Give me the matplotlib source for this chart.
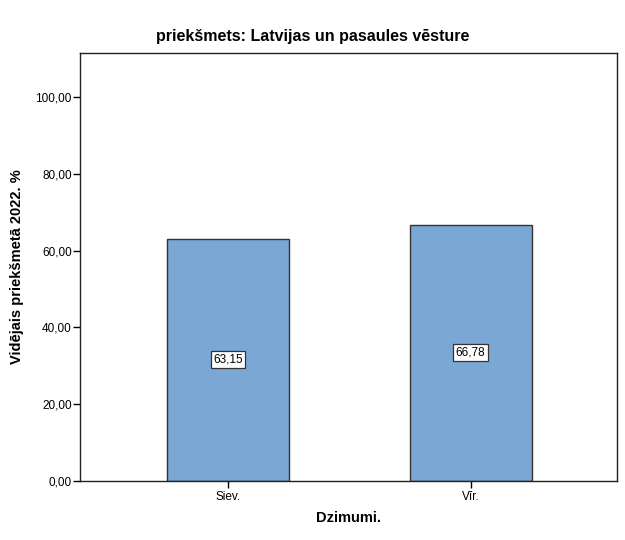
import matplotlib
matplotlib.use("Agg")
import matplotlib.pyplot as plt
from matplotlib.ticker import FuncFormatter

categories = ["Siev.", "Vīr."]
values = [63.15, 66.78]
yticks = [0, 20, 40, 60, 80, 100]

plt.rcParams['font.family'] = ['Liberation Sans', 'DejaVu Sans']

fig = plt.figure(figsize=(6.25, 5.4), dpi=100)
ax = fig.add_axes([0.128, 0.1093, 0.8592, 0.7926])

x = list(range(len(categories)))
bars = ax.bar(x, values, width=0.503, color='#7BA7D5', edgecolor='#333333', linewidth=1.0)
for xi, v in zip(x, values):
    ax.text(xi, v / 2, f"{v:.2f}".replace('.', ','), ha='center', va='center', fontsize=8.5,
            bbox=dict(boxstyle='square,pad=0.2', facecolor='white', edgecolor='#333333', linewidth=0.9))

ax.set_xlim(-0.61, 1.604)
ax.set_ylim(0, 111.5)
ax.set_xticks(x)
ax.set_xticklabels(categories, fontsize=8.5)
ax.set_yticks(yticks)
ax.yaxis.set_major_formatter(FuncFormatter(lambda v, p: f"{v:.2f}".replace('.', ',')))
ax.tick_params(axis='y', labelsize=8.5, length=5, width=1, pad=1)
ax.tick_params(axis='x', length=5, width=1, pad=2)
for s in ax.spines.values():
    s.set_linewidth(1.0)
    s.set_color('#222222')

ax.set_xlabel("Dzimumi.", fontsize=10.5, fontweight='bold', labelpad=6)
ax.set_ylabel("Vidējais priekšmetā 2022. %", fontsize=10.5, fontweight='bold', labelpad=8)
fig.text(0.5, 0.932, "priekšmets: Latvijas un pasaules vēsture", ha='center', va='center',
         fontsize=11.5, fontweight='bold')

fig.savefig("out.png", dpi=100)
